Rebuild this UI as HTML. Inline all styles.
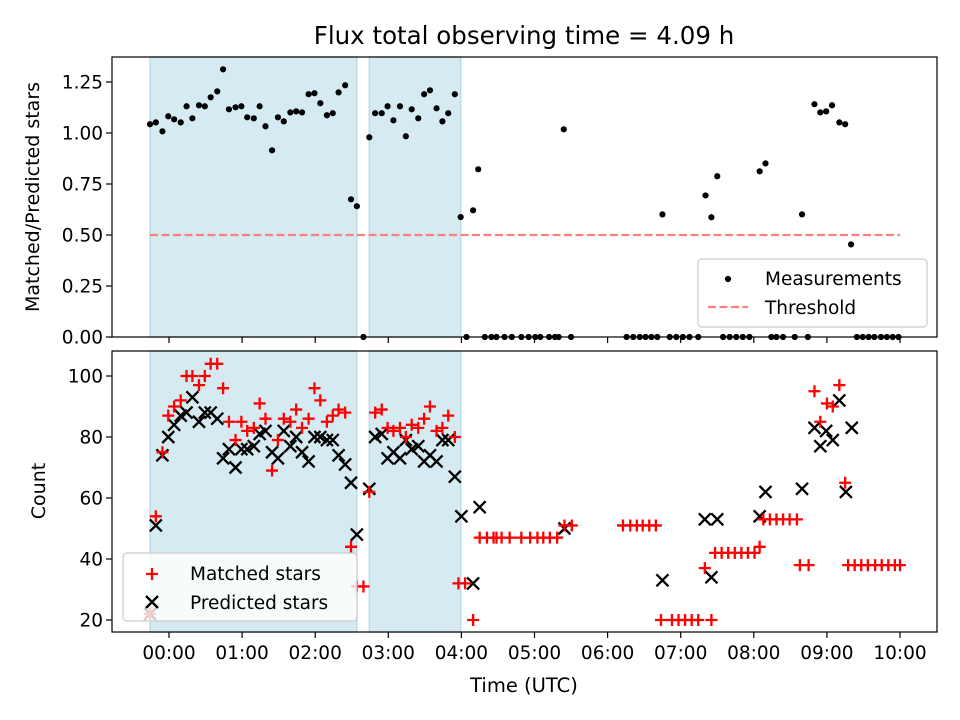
<!DOCTYPE html>
<html><head><meta charset="utf-8"><style>
body{margin:0;background:#fff;}
svg{display:block;font-family:"DejaVu Sans","Liberation Sans",sans-serif;}
</style></head><body>
<svg id="chart" width="960" height="720" viewBox="0 0 960 720" xmlns="http://www.w3.org/2000/svg">
<rect width="960" height="720" fill="#fff"/>
<text x="524" y="44" font-size="24.5" text-anchor="middle">Flux total observing time = 4.09 h</text>
<g id="topPanel"></g>
<g id="botPanel"></g>
<text transform="translate(39,197) rotate(-90)" font-size="19" text-anchor="middle">Matched/Predicted stars</text>
<text transform="translate(45,491) rotate(-90)" font-size="19" text-anchor="middle">Count</text>
<text x="524" y="692" font-size="19.5" text-anchor="middle">Time (UTC)</text>
</svg>
<script>
// ---- data ----
const spanStarts = [-0.26, 2.74];
const spanEnds = [2.57, 3.99];
const thresholdValue = 0.5;
const thresholdRange = [-0.26, 10.0];
const ratioTimes = [-0.26,-0.18,-0.09,-0.01,0.07,0.16,0.24,0.32,0.41,0.49,0.57,0.66,0.74,0.82,0.91,0.99,1.07,1.16,1.24,1.32,1.41,1.49,1.57,1.66,1.74,1.82,1.91,1.99,2.07,2.16,2.24,2.32,2.41,2.49,2.57,2.66,2.74,2.82,2.91,2.99,3.07,3.16,3.24,3.32,3.41,3.49,3.57,3.66,3.74,3.82,3.91,3.99,4.07,4.16,4.23,
4.32,4.41,4.48,4.59,4.69,4.82,4.92,5.01,5.08,5.20,5.28,5.33,5.40,5.50,6.26,6.35,6.44,6.52,6.60,6.68,6.75,6.85,6.94,7.03,7.12,7.24,7.34,7.42,7.50,7.58,7.67,7.76,7.85,7.94,8.08,8.16,8.24,8.31,8.40,8.56,8.66,8.74,8.83,8.91,8.99,9.07,9.17,9.25,9.33,9.41,9.49,9.57,9.65,9.74,9.82,9.90,9.98];
const ratioValues = [1.043,1.052,1.008,1.082,1.067,1.052,1.131,1.072,1.136,1.131,1.175,1.204,1.312,1.116,1.126,1.131,1.077,1.072,1.131,1.033,0.915,1.077,1.057,1.101,1.106,1.101,1.190,1.195,1.146,1.087,1.097,1.199,1.234,0.675,0.641,0,0.979,1.097,1.097,1.131,1.062,1.131,0.984,1.116,1.072,1.190,1.209,1.121,1.057,1.097,1.190,0.588,0,0.621,0.822,
0,0,0,0,0,0,0,0,0,0,0,0,1.018,0,0,0,0,0,0,0,0.601,0,0,0,0,0,0.694,0.587,0.788,0,0,0,0,0,0.812,0.851,0,0,0,0,0.601,0,1.141,1.101,1.106,1.136,1.052,1.043,0.454,0,0,0,0,0,0,0,0];
const matchedTimes = [-0.26,-0.18,-0.09,-0.01,0.07,0.16,0.24,0.32,0.41,0.49,0.57,0.66,0.74,0.82,0.91,0.99,1.07,1.16,1.24,1.32,1.41,1.49,1.57,1.66,1.74,1.82,1.91,1.99,2.07,2.16,2.24,2.32,2.41,2.49,2.57,2.66,2.74,2.82,2.91,2.99,3.07,3.16,3.24,3.32,3.41,3.49,3.57,3.66,3.74,3.82,3.91,
3.96,4.05,4.16,4.25,4.35,4.44,4.48,4.55,4.66,4.82,4.94,5.04,5.12,5.21,5.31,5.41,5.51,6.21,6.31,6.40,6.48,6.57,6.66,6.73,6.88,6.97,7.06,7.15,7.24,7.33,7.42,7.47,7.56,7.65,7.74,7.83,7.92,8.01,8.08,8.13,8.22,8.31,8.40,8.49,8.59,8.63,8.75,8.83,8.91,9.00,9.08,9.17,9.25,9.29,9.38,9.47,9.56,9.66,9.75,9.84,9.93,10.0];
const matchedCounts = [22,54,75,87,90,92,100,100,97,100,104,104,96,85,79,85,82,83,91,86,69,79,86,85,89,83,86,96,92,85,87,89,88,44,31,31,62,88,89,83,82,83,80,84,83,86,90,82,83,87,80,
32,32,20,47,47,47,47,47,47,47,47,47,47,47,47,51,51,51,51,51,51,51,51,20,20,20,20,20,20,37,20,42,42,42,42,42,42,42,44,53,53,53,53,53,53,38,38,95,85,91,90,97,65,38,38,38,38,38,38,38,38,38];
const predictedTimes = [-0.26,-0.18,-0.09,-0.01,0.07,0.16,0.24,0.32,0.41,0.49,0.57,0.66,0.74,0.82,0.91,0.99,1.07,1.16,1.24,1.32,1.41,1.49,1.57,1.66,1.74,1.82,1.91,1.99,2.07,2.16,2.24,2.32,2.41,2.49,2.57,2.74,2.82,2.91,2.99,3.07,3.16,3.24,3.32,3.41,3.49,3.57,3.66,3.74,3.82,3.91,4.00,4.16,4.25,5.41,6.75,7.33,7.42,7.50,8.08,8.16,8.66,8.83,8.91,8.99,9.08,9.17,9.26,9.34];
const predictedCounts = [22,51,74,80,84,87,88,93,85,88,88,86,73,76,70,76,76,77,81,82,75,73,82,77,80,75,72,80,80,79,79,74,71,65,48,63,80,81,73,75,73,79,76,77,72,74,72,79,79,67,54,32,57,50,33,53,34,53,54,62,63,83,77,82,79,92,62,83];
const xTickLabels = ["00:00","01:00","02:00","03:00","04:00","05:00","06:00","07:00","08:00","09:00","10:00"];
const xTickHours = [0,1,2,3,4,5,6,7,8,9,10];
const ratioTicks = [0,0.25,0.5,0.75,1.0,1.25];
const countTicks = [20,40,60,80,100];

// ---- scales ----
const L=112,R=937,T1=57,B1=337,T2=351,B2=632;
const xS = t => 169 + t*73.1;
const yTop = v => 337 - v*204;
const yBot = c => 620 - (c-20)*3.05;
const NS="http://www.w3.org/2000/svg";
function mk(tag, attrs, parent){const e=document.createElementNS(NS,tag);for(const k in attrs)e.setAttribute(k,attrs[k]);parent.appendChild(e);return e;}

function panel(g, T, B){
  for(let i=0;i<spanStarts.length;i++){
    const s=mk('rect',{x:xS(spanStarts[i]),y:T,width:xS(spanEnds[i])-xS(spanStarts[i]),height:B-T,fill:'#d5eaf1',stroke:'#bcdde8','stroke-width':1.5},g);
    
    
  }
  for(let i=0;i<xTickHours.length;i++){
    const tk=mk('line',{x1:xS(xTickHours[i]),x2:xS(xTickHours[i]),y1:B,y2:B+6,stroke:'#000','stroke-width':1.2},g);
    
    
  }
}
const topG=document.getElementById('topPanel'), botG=document.getElementById('botPanel');
panel(topG,T1,B1); panel(botG,T2,B2);

// threshold
const th=mk('line',{x1:xS(thresholdRange[0]),x2:xS(thresholdRange[1]),y1:yTop(thresholdValue),y2:yTop(thresholdValue),stroke:'#ff7f7f','stroke-width':2.2,'stroke-dasharray':'8,3.5'},topG);



// measurements
for(let i=0;i<ratioTimes.length;i++){
  const c=mk('circle',{cx:xS(ratioTimes[i]),cy:yTop(ratioValues[i]),r:3.1,fill:'#000'},topG);
  
  
}
// predicted (x)
for(let i=0;i<predictedTimes.length;i++){
  const x=xS(predictedTimes[i]), y=yBot(predictedCounts[i]), s=6;
  const p=mk('path',{d:`M${x-s},${y-s}L${x+s},${y+s}M${x-s},${y+s}L${x+s},${y-s}`,stroke:'#000','stroke-width':2.3,fill:'none'},botG);
  
  
}
// matched (+)
for(let i=0;i<matchedTimes.length;i++){
  const x=xS(matchedTimes[i]), y=yBot(matchedCounts[i]), s=6;
  const p=mk('path',{d:`M${x-s},${y}L${x+s},${y}M${x},${y-s}L${x},${y+s}`,stroke:'#ff0000','stroke-width':2.3,fill:'none'},botG);
  
  
}

// frames
mk('rect',{x:L,y:T1,width:R-L,height:B1-T1,fill:'none',stroke:'#000','stroke-width':1.2},topG);
mk('rect',{x:L,y:T2,width:R-L,height:B2-T2,fill:'none',stroke:'#000','stroke-width':1.2},botG);

// y ticks
for(const v of ratioTicks){
  const y=yTop(v);
  mk('line',{x1:L-6,x2:L,y1:y,y2:y,stroke:'#000','stroke-width':1.2},topG);
  const t=mk('text',{x:L-9,y:y+6.5,'font-size':18.5,'text-anchor':'end'},topG);
  t.textContent=v.toFixed(2);
  
  
}
for(const v of countTicks){
  const y=yBot(v);
  mk('line',{x1:L-6,x2:L,y1:y,y2:y,stroke:'#000','stroke-width':1.2},botG);
  const t=mk('text',{x:L-9,y:y+6.5,'font-size':18.5,'text-anchor':'end'},botG);
  t.textContent=v;
  
  
}
for(let i=0;i<xTickHours.length;i++){
  const t=mk('text',{x:xS(xTickHours[i]),y:B2+27,'font-size':18.5,'text-anchor':'middle'},botG);
  t.textContent=xTickLabels[i];
  
  
}

// legends
const lg1=mk('g',{},topG);


mk('rect',{x:698,y:259,width:229,height:68,rx:4,fill:'rgba(255,255,255,0.8)',stroke:'#ccc','stroke-width':1.2},lg1);
mk('circle',{cx:728,cy:279,r:3.1,fill:'#000'},lg1);
let t=mk('text',{x:765,y:285,'font-size':18.5},lg1); t.textContent='Measurements';
mk('line',{x1:708,x2:748,y1:307,y2:307,stroke:'#ff7f7f','stroke-width':2.2,'stroke-dasharray':'8,3.5'},lg1);
t=mk('text',{x:765,y:314,'font-size':18.5},lg1); t.textContent='Threshold';

const lg2=mk('g',{},botG);


mk('rect',{x:123,y:553,width:234,height:68,rx:4,fill:'rgba(255,255,255,0.8)',stroke:'#ccc','stroke-width':1.2},lg2);
mk('path',{d:'M146,574L158,574M152,568L152,580',stroke:'#f00','stroke-width':2.3},lg2);
t=mk('text',{x:190,y:580,'font-size':18.5},lg2); t.textContent='Matched stars';
mk('path',{d:'M146,596L158,608M146,608L158,596',stroke:'#000','stroke-width':2.3},lg2);
t=mk('text',{x:190,y:609,'font-size':18.5},lg2); t.textContent='Predicted stars';
</script>
</body></html>
